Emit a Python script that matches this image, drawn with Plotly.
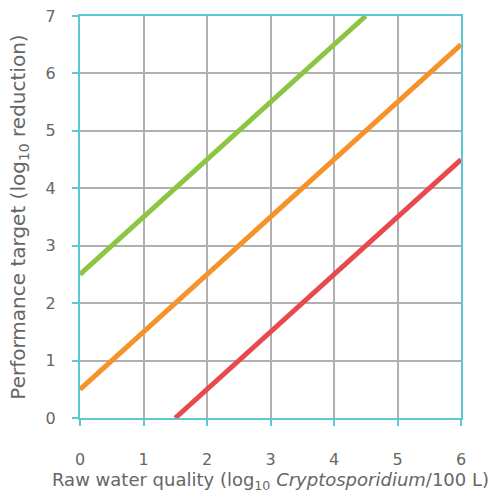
import plotly.graph_objects as go

# Raw water quality (log10 Cryptosporidium / 100 L) vs. required log reduction
green_x = [0, 4.5]
green_y = [2.5, 7]
orange_x = [0, 6]
orange_y = [0.5, 6.5]
red_x = [1.5, 6]
red_y = [0, 4.5]

x_ticks = [0, 1, 2, 3, 4, 5, 6]
y_ticks = [0, 1, 2, 3, 4, 5, 6, 7]

x_title = "Raw water quality (log<sub>10</sub> <i>Cryptosporidium</i>/100 L)"
y_title = "Performance target (log<sub>10</sub> reduction)"

teal = "#5cc8d4"
grid = "#b0b0b0"
text = "#666666"
face = "DejaVu Sans"

fig = go.Figure()
for xs, ys, col in [(green_x, green_y, "#8cc541"),
                    (orange_x, orange_y, "#f6922a"),
                    (red_x, red_y, "#e8494f")]:
    fig.add_trace(go.Scatter(x=xs, y=ys, mode="lines",
                             line=dict(color=col, width=5),
                             showlegend=False, hoverinfo="skip"))

axis_common = dict(
    showline=True, linecolor=teal, linewidth=2, mirror=True,
    showgrid=True, gridcolor=grid, gridwidth=1.5,
    ticks="outside", ticklen=6, tickcolor=teal, tickwidth=1.5,
    zeroline=False, automargin=False,
    tickfont=dict(family=face, size=16, color=text),
)

fig.update_layout(
    width=488, height=493,
    margin=dict(l=80, r=27, t=16, b=75),
    paper_bgcolor="white", plot_bgcolor="white",
    xaxis=dict(range=[0, 6], tickvals=x_ticks, ticklabelstandoff=20,
               **axis_common),
    yaxis=dict(range=[0, 7], tickvals=y_ticks, ticklabelstandoff=13,
               title=dict(text=y_title,
                          font=dict(family=face, size=20, color=text), standoff=15),
               **axis_common),
)

# x-axis title placed below the tick labels
fig.add_annotation(text=x_title, xref="paper", yref="paper",
                   x=0.5, y=-0.157, xanchor="center", yanchor="middle",
                   showarrow=False, font=dict(family=face, size=18, color=text))

fig.write_html("out.html")
